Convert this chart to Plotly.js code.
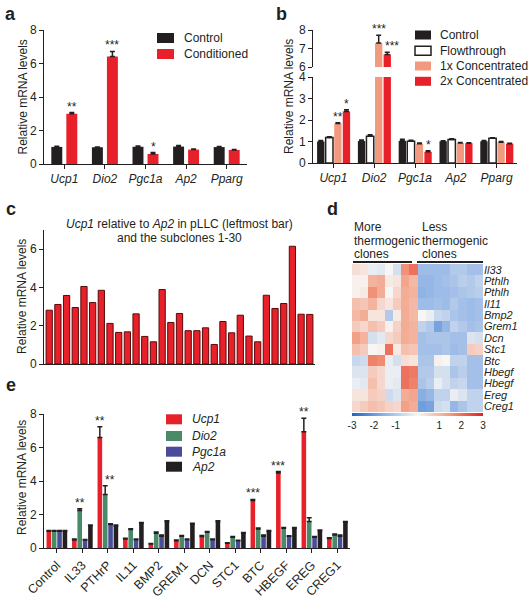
<!DOCTYPE html>
<html><head><meta charset="utf-8">
<script src="https://cdn.plot.ly/plotly-3.0.1.min.js"></script>
<style>html,body{margin:0;padding:0;background:#fff}#chart{width:529px;height:600px}</style>
</head><body><div id="chart"></div>
<script>
// ---------- Panel a ----------
const genesA = ['Ucp1','Dio2','Pgc1a','Ap2','Pparg'];
const seriesA = ['Control','Conditioned'];
const aControl = [1.02,1.0,1.03,1.04,1.01];
const aControlErr = [0.04,0.02,0.04,0.07,0.03];
const aCond = [3.0,6.42,0.6,0.86,0.84];
const aCondErr = [0.07,0.3,0.08,0.03,0.02];
const aControlSig = ['','','','',''];
const aCondSig = ['**','***','*','',''];

// ---------- Panel b ----------
const genesB = ['Ucp1','Dio2','Pgc1a','Ap2','Pparg'];
const seriesB = ['Control','Flowthrough','1x Concentrated','2x Concentrated'];
const bControl = [1.0,1.02,1.03,1.01,1.01];
const bControlErr = [0.05,0.05,0.08,0.03,0.04];
const bFlow = [1.19,1.24,1.01,1.09,1.15];
const bFlowErr = [0.03,0.07,0.05,0.04,0.03];
const b1x = [1.84,7.3,0.9,0.93,0.97];
const b1xErr = [0.03,0.42,0.03,0.02,0.03];
const b2x = [2.4,6.68,0.52,0.92,0.9];
const b2xErr = [0.08,0.12,0.05,0.02,0.02];
const bControlSig = ['','','','',''];
const bFlowSig = ['','','','',''];
const b1xSig = ['**','***','','',''];
const b2xSig = ['*','***','*','',''];

// ---------- Panel c ----------
const cClones = ['pLLC','1','2','3','4','5','6','7','8','9','10','11','12','13','14','15','16','17','18','19','20','21','22','23','24','25','26','27','28','29','30'];
const cValues = [2.81,3.11,3.58,2.95,4.05,3.21,3.85,2.12,1.65,1.68,2.62,1.44,1.16,3.89,2.17,2.64,1.74,1.74,1.89,1.02,2.22,1.63,2.55,1.46,1.16,3.59,2.9,3.16,6.15,2.6,2.59];
const cTitle1 = '<i>Ucp1</i> relative to <i>Ap2</i> in pLLC (leftmost bar)';
const cTitle2 = 'and the subclones 1-30';

// ---------- Panel d ----------
const dGenes = ['Il33','Pthlh','Pthlh','Il11','Bmp2','Grem1','Dcn','Stc1','Btc','Hbegf','Hbegf','Ereg','Creg1'];
const dClones = ['M1','M2','M3','M4','M5','M6','M7','M8','L1','L2','L3','L4','L5','L6','L7','L8'];
const dZ = [
 [0.4,0.3,-0.2,-0.3,0.0,-0.5,1.6,2.0, -1.3,-1.3,-1.3,-1.3,-1.0,-1.0,-1.2,-1.2],
 [0.1,0.1,1.1,1.2,0.2,0.3,1.3,1.0, -1.4,-1.4,-1.3,-1.2,-1.1,-0.9,-1.0,-0.8],
 [0.1,0.2,1.6,1.2,0.0,0.5,1.2,1.1, -1.5,-1.4,-1.3,-1.3,-1.2,-1.1,-1.0,-0.9],
 [0.9,0.8,1.1,0.5,0.3,0.7,1.2,1.0, -1.3,-1.3,-1.2,-1.3,-1.0,-1.2,-1.3,-1.2],
 [1.0,1.2,0.3,0.3,-1.0,0.2,1.2,1.0, 0.0,-0.2,-0.7,-0.8,-1.1,-1.2,-1.3,-1.2],
 [0.7,0.5,0.9,0.7,0.1,0.6,1.2,1.1, -0.8,-1.0,-1.8,-1.4,-0.8,-1.0,-1.2,-1.1],
 [1.4,1.1,-0.5,-0.3,0.5,0.7,1.2,1.1, -1.2,-1.1,-1.1,-1.1,-1.2,-1.2,-0.4,-0.5],
 [0.9,0.7,0.0,0.1,2.0,0.2,0.9,0.8, -1.2,-1.2,-1.2,-1.1,-1.3,-1.2,0.7,0.6],
 [-0.7,-0.6,1.8,1.7,-0.2,-0.5,0.4,0.3, -1.1,-1.1,0.1,0.0,-0.8,-0.8,-1.2,-1.2],
 [-0.4,-0.4,0.7,0.5,-0.2,-0.2,2.0,1.9, -1.0,-1.0,-0.5,-0.5,-1.1,-0.9,-1.2,-1.2],
 [-0.2,-0.3,0.9,0.5,-0.2,-0.3,2.0,1.8, -1.1,-0.9,-0.2,-0.5,-0.8,-0.7,-1.2,-1.2],
 [0.3,0.3,0.7,0.6,-0.6,-0.4,1.2,1.3, -1.6,-1.4,-0.8,-0.8,-0.2,-0.4,-0.8,-0.8],
 [0.5,0.7,0.9,0.8,0.6,0.5,1.4,1.2, -1.9,-1.8,-0.6,-0.5,-1.4,-1.1,-0.8,-0.8]
];
const dGroupMore = ['More','thermogenic','clones'];
const dGroupLess = ['Less','thermogenic','clones'];
const dScaleTicks = [-3,-2,-1,1,2,3];
const dScaleLabels = ['-3','-2','-1','1','2','3'];

// ---------- Panel e ----------
const eTreat = ['Control','IL33','PTHrP','IL11','BMP2','GREM1','DCN','STC1','BTC','HBEGF','EREG','CREG1'];
const seriesE = ['Ucp1','Dio2','Pgc1a','Ap2'];
const eUcp1 = [1.0,0.48,6.6,0.54,0.24,0.44,0.68,0.28,2.84,4.48,6.94,0.56];
const eUcp1Err = [0.05,0.05,0.64,0.04,0.03,0.04,0.06,0.03,0.06,0.08,0.8,0.05];
const eDio2 = [1.0,2.24,3.2,1.1,0.88,0.7,0.94,0.64,1.14,1.18,1.58,0.78];
const eDio2Err = [0.04,0.1,0.52,0.05,0.08,0.04,0.05,0.04,0.06,0.04,0.22,0.05];
const ePgc1a = [1.0,0.48,1.4,0.5,0.7,0.5,0.5,0.44,0.7,0.7,0.64,0.7];
const ePgc1aErr = [0.04,0.03,0.05,0.03,0.08,0.03,0.04,0.03,0.07,0.03,0.05,0.08];
const eAp2 = [1.0,1.34,1.32,1.48,1.58,1.44,1.58,0.88,1.0,1.18,1.04,1.54];
const eAp2Err = [0.04,0.04,0.05,0.04,0.05,0.04,0.04,0.04,0.04,0.04,0.04,0.04];
const eUcp1Sig = ['','','**','','','','','','***','***','**',''];
const eDio2Sig = ['','**','**','','','','','','','','',''];
const ePgc1aSig = ['','','','','','','','','','','',''];
const eAp2Sig = ['','','','','','','','','','','',''];

// ---------- helpers ----------
const F = 'Liberation Sans, Arial, Helvetica, sans-serif';
const INK = '#231f20';
const RED = '#e8202a';
const SALMON = '#f29a80';
const GREEN = '#4a8a68';
const PURPLE = '#4a4c9a';
const W = 529, H = 600;
const X = px => px / W;
const Y = py => 1 - py / H;
const zeros = n => new Array(n).fill(0);

function ax(extra) {
  return Object.assign({
    showline: true, linecolor: INK, linewidth: 1, ticks: 'outside', ticklen: 4,
    tickwidth: 1, tickcolor: INK, showgrid: false, zeroline: false,
    tickfont: {family: F, size: 12, color: INK}, fixedrange: true
  }, extra);
}
function errBar(arr) {
  return {type: 'data', array: arr, arrayminus: zeros(arr.length), symmetric: false,
          color: INK, thickness: 1.5, width: 2.5};
}
function barTrace(cats, vals, errs, xa, ya, off, wid, color, lineColor, lineW) {
  return {type: 'bar', x: cats, y: vals, xaxis: xa, yaxis: ya, offset: off, width: wid,
    marker: {color: color, line: {color: lineColor || color, width: lineW || 0}},
    error_y: errBar(errs), showlegend: false, hoverinfo: 'skip'};
}

const traces = [];
const annotations = [];
const shapes = [];

function stars(series, cats, xref, yrefOf, fontSize) {
  cats.forEach((c, i) => {
    series.forEach((s, k) => {
      const t = s.sig[i];
      if (!t) return;
      const top = s.vals[i] + s.errs[i];
      let xs = 0;
      if (k > 0) {
        const p = series[k - 1];
        if (p.vals[i] + p.errs[i] > top + 0.8) xs = 5;
      }
      annotations.push({xref: xref, yref: yrefOf(top), x: i + s.center, y: top,
        text: t, showarrow: false, xanchor: 'center', yanchor: 'bottom', yshift: -3, xshift: xs,
        font: {family: F, size: fontSize, color: INK}});
    });
  });
}

function legendBox(entries, sx, tx, centers, swW, swH, italic) {
  entries.forEach((e, i) => {
    const cy = centers[i];
    shapes.push({type: 'rect', xref: 'paper', yref: 'paper',
      x0: X(sx), x1: X(sx + swW), y0: Y(cy + swH / 2), y1: Y(cy - swH / 2),
      fillcolor: e.fill, line: {color: e.line || e.fill, width: e.line ? 1.5 : 0}});
    annotations.push({xref: 'paper', yref: 'paper', x: X(tx), y: Y(cy), xanchor: 'left', yanchor: 'middle',
      text: italic ? '<i>' + e.name + '</i>' : e.name, showarrow: false,
      font: {family: F, size: 12, color: INK}});
  });
}

function textAt(px, py, text, opts) {
  annotations.push(Object.assign({xref: 'paper', yref: 'paper', x: X(px), y: Y(py), text: text,
    showarrow: false, xanchor: 'center', yanchor: 'middle', font: {family: F, size: 12, color: INK}}, opts || {}));
}

// ---------- Panel a traces ----------
traces.push(barTrace(genesA, aControl, aControlErr, 'x', 'y', -0.32, 0.27, INK));
traces.push(barTrace(genesA, aCond, aCondErr, 'x', 'y', 0.05, 0.27, RED));
stars([{vals: aControl, errs: aControlErr, sig: aControlSig, center: -0.185},
       {vals: aCond, errs: aCondErr, sig: aCondSig, center: 0.185}], genesA, 'x', () => 'y', 12);
legendBox([{name: seriesA[0], fill: INK}, {name: seriesA[1], fill: RED}], 157, 182, [38, 54], 17, 10, false);

// ---------- Panel b traces (broken axis: lower y2, upper y3) ----------
const bSeries = [
  {vals: bControl, errs: bControlErr, sig: bControlSig, off: -0.40, fill: INK},
  {vals: bFlow, errs: bFlowErr, sig: bFlowSig, off: -0.19, fill: '#ffffff', line: INK},
  {vals: b1x, errs: b1xErr, sig: b1xSig, off: 0.02, fill: SALMON},
  {vals: b2x, errs: b2xErr, sig: b2xSig, off: 0.23, fill: RED}
];
bSeries.forEach(s => {
  traces.push(barTrace(genesB, s.vals, s.errs, 'x2', 'y2', s.off, 0.18, s.fill, s.line, s.line ? 1.5 : 0));
  traces.push(barTrace(genesB, s.vals, s.errs, 'x3', 'y3', s.off, 0.18, s.fill, s.line, s.line ? 1.5 : 0));
});
stars(bSeries.map(s => ({vals: s.vals, errs: s.errs, sig: s.sig, center: s.off + 0.09})), genesB, 'x2',
  top => top > 5 ? 'y3' : 'y2', 12);
legendBox(seriesB.map((n, i) => ({name: n, fill: bSeries[i].fill, line: bSeries[i].line})),
  415, 438, [35, 50.7, 66, 81.3], 16, 9, false);

// ---------- Panel c ----------
traces.push({type: 'bar', x: cClones.map((c, i) => i), y: cValues, xaxis: 'x4', yaxis: 'y4', width: 0.72,
  marker: {color: RED, line: {color: '#5a0a0a', width: 1}}, showlegend: false, hoverinfo: 'skip',
  customdata: cClones});
textAt(179, 224, cTitle1);
textAt(179, 238, cTitle2);

// ---------- Panel d ----------
traces.push({type: 'heatmap', z: dZ, x: dClones.map((c, i) => i), y: dGenes.map((g, i) => i),
  xaxis: 'x5', yaxis: 'y5', zmin: -3, zmax: 3, hoverinfo: 'skip',
  colorscale: [[0, '#1f63c6'], [0.25, '#8fb3e5'], [0.5, '#f8f6f4'], [0.75, '#f29a7e'], [1, '#e0221e']],
  colorbar: {orientation: 'h', x: X(417.5), xanchor: 'center', y: Y(413), yanchor: 'top',
    len: 131, lenmode: 'pixels', thickness: 3, thicknessmode: 'pixels', outlinewidth: 0,
    xpad: 0, ypad: 0, tickvals: dScaleTicks, ticktext: dScaleLabels, ticks: '', ticklen: 0,
    tickfont: {family: F, size: 10, color: INK}}});
dGroupMore.forEach((t, i) => textAt(352, 227 + i * 13.5, t, {xanchor: 'left'}));
dGroupLess.forEach((t, i) => textAt(420, 227 + i * 13.5, t, {xanchor: 'left'}));
shapes.push({type: 'line', xref: 'paper', yref: 'paper', x0: X(353), x1: X(412), y0: Y(262), y1: Y(262), line: {color: INK, width: 2}});
shapes.push({type: 'line', xref: 'paper', yref: 'paper', x0: X(417), x1: X(483), y0: Y(262), y1: Y(262), line: {color: INK, width: 2}});

// ---------- Panel e ----------
const eSeries = [
  {vals: eUcp1, errs: eUcp1Err, sig: eUcp1Sig, off: -0.40, fill: RED},
  {vals: eDio2, errs: eDio2Err, sig: eDio2Sig, off: -0.19, fill: GREEN},
  {vals: ePgc1a, errs: ePgc1aErr, sig: ePgc1aSig, off: 0.02, fill: PURPLE},
  {vals: eAp2, errs: eAp2Err, sig: eAp2Sig, off: 0.23, fill: INK}
];
eSeries.forEach(s => traces.push(barTrace(eTreat, s.vals, s.errs, 'x6', 'y6', s.off, 0.18, s.fill)));
stars(eSeries.map(s => ({vals: s.vals, errs: s.errs, sig: s.sig, center: s.off + 0.09})), eTreat, 'x6', () => 'y6', 12);
legendBox(seriesE.map((n, i) => ({name: n, fill: eSeries[i].fill})), 166, 190, [419.3, 436, 451.7, 466.7], 16, 10, true);

// ---------- y titles & panel letters ----------
const yTitle = 'Relative mRNA levels';
[[22.5, 97], [289, 97], [22, 297], [22, 478]].forEach(p => textAt(p[0], p[1], yTitle, {textangle: -90}));
[['a', 10.5, 14], ['b', 281, 14], ['c', 11, 209], ['d', 332, 209], ['e', 11, 385]].forEach(p =>
  textAt(p[1], p[2], '<b>' + p[0] + '</b>', {font: {family: F, size: 18, color: INK}}));

const italicTick = {family: F, size: 12, color: INK, style: 'italic'};
const layout = {
  width: W, height: H, margin: {l: 0, r: 0, t: 0, b: 0}, paper_bgcolor: '#fff', plot_bgcolor: 'rgba(0,0,0,0)',
  showlegend: false, barmode: 'group', font: {family: F, color: INK},
  xaxis: ax({domain: [X(44), X(247)], anchor: 'y', type: 'category', range: [-0.5, 4.5], tickfont: italicTick}),
  yaxis: ax({domain: [Y(164), Y(30)], anchor: 'x', range: [0, 8], tickvals: [0, 2, 4, 6, 8]}),
  xaxis2: ax({domain: [X(313), X(517)], anchor: 'y2', type: 'category', range: [-0.5, 4.5], tickfont: italicTick}),
  yaxis2: ax({domain: [Y(163), Y(77)], anchor: 'x2', range: [0, 4], tickvals: [0, 1, 2, 3, 4]}),
  xaxis3: ax({domain: [X(313), X(517)], anchor: 'y3', type: 'category', range: [-0.5, 4.5], visible: false}),
  yaxis3: ax({domain: [Y(67), Y(30)], anchor: 'x3', range: [6, 8], tickvals: [6, 7, 8]}),
  xaxis4: ax({domain: [X(44), X(315)], anchor: 'y4', range: [-0.6, 30.6], ticks: '', showticklabels: false}),
  yaxis4: ax({domain: [Y(364), Y(230)], anchor: 'x4', range: [0, 7], tickvals: [0, 2, 4, 6]}),
  xaxis5: {domain: [X(352), X(483)], anchor: 'y5', range: [-0.5, 15.5], visible: false, fixedrange: true},
  yaxis5: {domain: [Y(412), Y(264)], anchor: 'x5', range: [12.5, -0.5], side: 'right', showgrid: false,
    zeroline: false, showline: false, ticks: '', tickvals: dGenes.map((g, i) => i), ticktext: dGenes,
    tickfont: {family: F, size: 11, color: INK, style: 'italic'}, fixedrange: true},
  xaxis6: ax({domain: [X(44), X(350)], anchor: 'y6', type: 'category', range: [-0.5, 11.5], tickangle: -45,
    tickfont: {family: F, size: 12.5, color: INK}}),
  yaxis6: ax({domain: [Y(548), Y(414)], anchor: 'x6', range: [0, 8], tickvals: [0, 2, 4, 6, 8]}),
  annotations: annotations, shapes: shapes
};
Plotly.newPlot('chart', traces, layout, {displayModeBar: false, staticPlot: true});
</script>
</body></html>
